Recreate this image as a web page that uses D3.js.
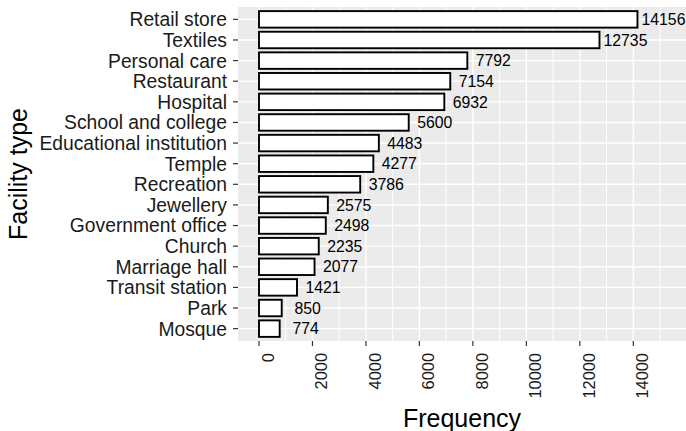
<!DOCTYPE html>
<html lang="en">
<head>
<meta charset="UTF-8">
<title>Facility type frequency</title>
<script src="https://d3js.org/d3.v7.min.js"></script>
<style>
  body { margin: 0; background: #fff; }
  svg { display: block; font-family: "Liberation Sans", Arial, sans-serif; }
</style>
</head>
<body>
<svg id="chart" width="686" height="431"></svg>
<script>
// data, top bar first
var facilities = ["Retail store", "Textiles", "Personal care", "Restaurant", "Hospital",
  "School and college", "Educational institution", "Temple", "Recreation", "Jewellery",
  "Government office", "Church", "Marriage hall", "Transit station", "Park", "Mosque"];
var counts = [14156, 12735, 7792, 7154, 6932, 5600, 4483, 4277, 3786, 2575, 2498, 2235, 2077, 1421, 850, 774];
var xTicks = [0, 2000, 4000, 6000, 8000, 10000, 12000, 14000];
var xMinor = [1000, 3000, 5000, 7000, 9000, 11000, 13000, 15000];

var svg = d3.select("#chart");
var panel = {left: 238, right: 686, top: 7, bottom: 341};

var x = d3.scaleLinear()
    .domain([0, 14000])
    .range([259, 633.3]);

var y = d3.scalePoint()
    .domain(facilities)
    .range([panel.top, panel.bottom])
    .padding(0.6);

var barH = y.step() * 0.8;

// panel background
svg.append("rect")
    .attr("x", panel.left)
    .attr("y", panel.top)
    .attr("width", panel.right - panel.left)
    .attr("height", panel.bottom - panel.top)
    .attr("fill", "#ebebeb");

var grid = svg.append("g").attr("stroke", "#fff");

grid.selectAll("line.minor")
    .data(xMinor.filter(function(d) { return x(d) < panel.right; }))
    .enter().append("line")
    .attr("class", "minor")
    .attr("x1", x).attr("x2", x)
    .attr("y1", panel.top).attr("y2", panel.bottom)
    .attr("stroke-width", 1);

grid.selectAll("line.majorx")
    .data(xTicks)
    .enter().append("line")
    .attr("class", "majorx")
    .attr("x1", x).attr("x2", x)
    .attr("y1", panel.top).attr("y2", panel.bottom)
    .attr("stroke-width", 1.4);

grid.selectAll("line.majory")
    .data(facilities)
    .enter().append("line")
    .attr("class", "majory")
    .attr("x1", panel.left).attr("x2", panel.right)
    .attr("y1", y).attr("y2", y)
    .attr("stroke-width", 1.4);

// bars
svg.selectAll("rect.bar")
    .data(facilities)
    .enter().append("rect")
    .attr("class", "bar")
    .attr("x", x(0))
    .attr("y", function(d) { return y(d) - barH / 2; })
    .attr("width", function(d, i) { return x(counts[i]) - x(0); })
    .attr("height", barH)
    .attr("fill", "#fff")
    .attr("stroke", "#000")
    .attr("stroke-width", 1.9);

// value labels
svg.selectAll("text.val")
    .data(facilities)
    .enter().append("text")
    .attr("class", "val")
    .attr("x", function(d, i) { return x(counts[i]) + 26; })
    .attr("y", y)
    .attr("dy", "0.36em")
    .attr("text-anchor", "middle")
    .attr("font-size", "15.8px")
    .attr("fill", "#000")
    .text(function(d, i) { return counts[i]; });

// y axis
var yAxis = svg.append("g");
yAxis.selectAll("line")
    .data(facilities)
    .enter().append("line")
    .attr("x1", panel.left - 5).attr("x2", panel.left)
    .attr("y1", y).attr("y2", y)
    .attr("stroke", "#333").attr("stroke-width", 1.2);
yAxis.selectAll("text")
    .data(facilities)
    .enter().append("text")
    .attr("x", panel.left - 11)
    .attr("y", y)
    .attr("dy", "0.36em")
    .attr("text-anchor", "end")
    .attr("font-size", "19.3px")
    .attr("fill", "#1a1a1a")
    .text(function(d) { return d; });

// x axis
var xAxis = svg.append("g");
xAxis.selectAll("line")
    .data(xTicks)
    .enter().append("line")
    .attr("x1", x).attr("x2", x)
    .attr("y1", panel.bottom).attr("y2", panel.bottom + 5)
    .attr("stroke", "#333").attr("stroke-width", 1.2);
xAxis.selectAll("text")
    .data(xTicks)
    .enter().append("text")
    .attr("transform", function(d) { return "translate(" + (x(d) + 15) + "," + (panel.bottom + 12) + ") rotate(-90)"; })
    .attr("text-anchor", "end")
    .attr("font-size", "16.4px")
    .attr("fill", "#1a1a1a")
    .text(function(d) { return d; });

// axis titles
svg.append("text")
    .attr("x", (panel.left + panel.right) / 2)
    .attr("y", 427)
    .attr("text-anchor", "middle")
    .attr("font-size", "25px")
    .attr("fill", "#000")
    .text("Frequency");

svg.append("text")
    .attr("transform", "translate(27," + ((panel.top + panel.bottom) / 2) + ") rotate(-90)")
    .attr("text-anchor", "middle")
    .attr("font-size", "25px")
    .attr("fill", "#000")
    .text("Facility type");
</script>
</body>
</html>
